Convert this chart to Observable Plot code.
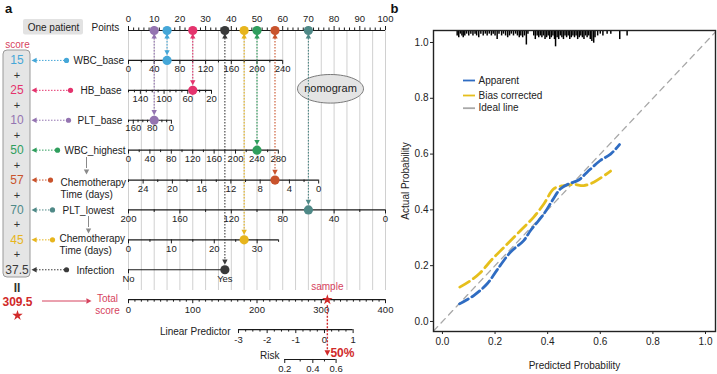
<!DOCTYPE html>
<html><head><meta charset="utf-8">
<script src="https://cdn.jsdelivr.net/npm/d3@7"></script>
<script src="https://cdn.jsdelivr.net/npm/@observablehq/plot@0.6"></script>
<style>
body{margin:0;background:#fff;}
#wrap{position:relative;width:717px;height:374px;overflow:hidden;font-family:"Liberation Sans",Arial,sans-serif;}
#pa{position:absolute;left:0;top:0;}
#pb{position:absolute;left:397px;top:0;}
</style></head><body><div id="wrap"><div id="pa"></div><div id="pb"></div></div>
<script>
// ================= DATA: panel a (nomogram) =================
const variables = ["WBC_base","HB_base","PLT_base","WBC_highest","Chemotherapy\nTime (days)","PLT_lowest","Chemotherapy\nTime (days)","Infection"];
const scores = [15,25,10,50,57,70,45,37.5];
const colors = ["#45a7d8","#e4336d","#9474b1","#2f9e5d","#c9532c","#4f8987","#e7b51d","#3a3a3a"];
const pointsLabels = [0,10,20,30,40,50,60,70,80,90,100];
const wbcBaseLabels = [0,40,80,120,160,200,240];
const hbBaseLabels = [140,100,60,20];
const pltBaseLabels = [160,80,0];
const wbcHighLabels = [0,40,80,120,160,200,240,280];
const chemo1Labels = [24,20,16,12,8,4,0];
const pltLowLabels = [200,160,120,80,40,0];
const chemo2Labels = [0,10,20,30];
const infectionLabels = ["No","Yes"];
const infectionPoints = [0,37.5];
const totalLabels = [0,100,200,300,400];
const lpLabels = [-3,-2,-1,0,1];
const riskLabels = [0.2,0.4,0.6];
const sampleRisk = 0.5;

// ================= DATA: panel b (calibration) =================
const probTicks = [0,0.2,0.4,0.6,0.8,1.0];
const apparentX = [0.065,0.119,0.17,0.208,0.259,0.309,0.335,0.386,0.418,0.449,0.48,0.518,0.55,0.6,0.639,0.673];
const apparentY = [0.063,0.093,0.135,0.185,0.249,0.29,0.326,0.386,0.434,0.476,0.493,0.507,0.535,0.577,0.60,0.634];
const biasX = [0.066,0.106,0.144,0.189,0.233,0.297,0.347,0.386,0.424,0.462,0.5,0.537,0.575,0.639];
const biasY = [0.123,0.146,0.175,0.223,0.265,0.326,0.374,0.422,0.476,0.487,0.491,0.487,0.499,0.539];
const idealX = [-0.034,1.038];
const rugX = [0.056,0.062,0.068,0.074,0.079,0.085,0.092,0.10,0.108,0.116,0.124,0.13,0.138,0.146,0.155,0.163,0.17,0.178,0.186,0.193,0.2,0.208,0.215,0.225,0.232,0.24,0.248,0.255,0.262,0.27,0.278,0.285,0.292,0.298,0.305,0.312,0.319,0.325,0.347,0.353,0.36,0.366,0.372,0.378,0.384,0.39,0.396,0.402,0.408,0.414,0.42,0.426,0.43,0.436,0.442,0.448,0.454,0.46,0.466,0.472,0.478,0.484,0.49,0.496,0.502,0.508,0.514,0.52,0.526,0.532,0.538,0.544,0.55,0.556,0.562,0.568,0.575,0.58,0.59,0.6,0.61,0.626,0.64,0.674,0.702];
const rugN = [3,4,2,3,4,3,2,3,2,3,2,3,4,2,3,2,3,2,3,2,3,5,2,3,2,3,4,3,2,3,2,3,4,3,4,3,8,2,3,5,3,4,3,4,3,5,4,3,5,4,3,5,9,4,5,3,4,5,3,4,3,5,4,3,4,3,5,4,3,4,5,3,4,3,5,6,7,4,3,2,3,2,2,5,3];
const legendNames = ["Apparent","Bias corrected","Ideal line"];
const legendColors = ["#2f6cc2","#e6bf1c","#a8a8a8"];

// ================= layout helpers =================
const FONT = '"Liberation Sans", Arial, sans-serif';
const PX0 = 128, PXPP = 2.57;              // pixel of 0 points, px per point
const X = px => (px - PX0) / PXPP;          // layout pixel -> points units
const ROW0 = 30, ROWH = 29.909;
const Yr = py => (py - ROW0) / ROWH;        // layout pixel -> row units
const lin = (v0, v1, p0, p1) => v => p0 + (v - v0) / (v1 - v0) * (p1 - p0);
const lpF = lin(-3, 1, 42.8, 87.4);
const totalF = lin(0, 400, 0, 100);
const riskF = p => lpF(Math.log(p / (1 - p)));
const RED = "#d12a2a", PINK = "#d6435e";

function tri(dir){ return {draw(ctx, size){ const r = Math.sqrt(size/Math.PI);
  const P = {up:[[0,-r],[r*0.9,r*0.7],[-r*0.9,r*0.7]], down:[[0,r],[r*0.9,-r*0.7],[-r*0.9,-r*0.7]],
             left:[[-r,0],[r*0.7,-r*0.9],[r*0.7,r*0.9]], right:[[r,0],[-r*0.7,-r*0.9],[-r*0.7,r*0.9]]}[dir];
  ctx.moveTo(P[0][0],P[0][1]); ctx.lineTo(P[1][0],P[1][1]); ctx.lineTo(P[2][0],P[2][1]); ctx.closePath(); }}; }
const triUp = tri("up"), triDown = tri("down"), triLeft = tri("left"), triRight = tri("right");
const ellipseSym = {draw(ctx){ const rx=33, ry=14.3, k=0.5523;
  ctx.moveTo(rx,0); ctx.bezierCurveTo(rx,ry*k,rx*k,ry,0,ry); ctx.bezierCurveTo(-rx*k,ry,-rx,ry*k,-rx,0);
  ctx.bezierCurveTo(-rx,-ry*k,-rx*k,-ry,0,-ry); ctx.bezierCurveTo(rx*k,-ry,rx,-ry*k,rx,0); ctx.closePath(); }};

// axis definitions
const axesDef = [
  {row:0, f:d=>d, lo:0, hi:100, labels:pointsLabels, step:2, dir:-1, off:-0.4},
  {row:1, f:lin(0,240,0,60), lo:0, hi:240, labels:wbcBaseLabels, step:20, dir:1, off:0.3},
  {row:2, f:lin(160,20,0,32.3), lo:160, hi:20, labels:hbBaseLabels, step:10, dir:1, off:0.28},
  {row:3, f:lin(180,0,0,16.7), lo:180, hi:0, labels:pltBaseLabels, step:20, dir:1, off:0.26},
  {row:4, f:lin(0,280,0,58.3), lo:0, hi:280, labels:wbcHighLabels, step:20, dir:1, off:0.29},
  {row:5, f:lin(26,0,0,74), lo:26, hi:0, labels:chemo1Labels, step:2, dir:1, off:0.29},
  {row:6, f:lin(200,0,0,100), lo:200, hi:0, labels:pltLowLabels, step:20, dir:1, off:0.29},
  {row:7, f:lin(0,35,0,58.4), lo:0, hi:35, labels:chemo2Labels, step:5, dir:1, off:0.29},
  {row:9, f:totalF, lo:0, hi:400, labels:totalLabels, step:10, dir:1, off:0.33},
  {row:10, f:lpF, lo:-3, hi:1, labels:lpLabels, step:0.25, dir:1, off:0.36},
  {row:11, f:riskF, lo:0.2, hi:0.6, labels:riskLabels, step:0.1, dir:1, off:0.3}
];
const axisLines = [], ticks = [], tickLabels = [];
const MAJ = 4/ROWH, MIN = 2.5/ROWH;
for (const a of axesDef) {
  axisLines.push({row:a.row, p0:a.f(a.lo), p1:a.f(a.hi)});
  const lo = Math.min(a.lo,a.hi), hi = Math.max(a.lo,a.hi);
  for (const v of d3.range(lo, hi + a.step/2, a.step)) {
    const major = a.labels.some(l => Math.abs(l - v) < 1e-6);
    ticks.push({row:a.row, p:a.f(v), dir:a.dir, len: major ? MAJ : MIN});
  }
  for (const l of a.labels) tickLabels.push({row:a.row, p:a.f(l), label:String(l), off:a.off});
}
axisLines.push({row:8, p0:infectionPoints[0], p1:infectionPoints[1]});
infectionLabels.forEach((l,i) => { ticks.push({row:8, p:infectionPoints[i], dir:1, len:MAJ}); tickLabels.push({row:8, p:infectionPoints[i], label:l, off:0.3}); });

const labelLayout = [
  {dot:66, tx:73, dy:0}, {dot:70, tx:80, dy:0}, {dot:68, tx:77, dy:0}, {dot:57, tx:64, dy:0},
  {dot:50, tx:60, dy:0.28}, {dot:52, tx:62, dy:0}, {dot:52, tx:59, dy:0.15}, {dot:66, tx:76, dy:0}
];
const vars = variables.map((name,i) => ({name, score:scores[i], color:colors[i], row:i+1, ...labelLayout[i]}));
const totalScore = d3.sum(scores);
const gridPts = d3.range(0, 101, 5);
const plusRows = [1,2,3,4,5,6,7];
const dep = [{x:86, y1:157, y2:168}, {x:88, y1:216, y2:227}];

const pa = Plot.plot({
  width:397, height:374, margin:0,
  style:{fontFamily:FONT, fontSize:"10px", color:"#222", background:"transparent", overflow:"visible"},
  x:{type:"linear", domain:[X(0), X(397)], range:[0,397], axis:null},
  y:{type:"linear", domain:[0,11], range:[ROW0, ROW0 + 11*ROWH], axis:null},
  color:{type:"identity"},
  marks:[
    Plot.ruleX(gridPts, {x:d=>d, y1:0, y2:Yr(290), stroke:"#d0d0d0", strokeWidth:1}),
    Plot.dot([0], {x:X(330), y:Yr(88.3), symbol:ellipseSym, r:1, fill:"#e4e4e4", stroke:"#7a7a7a", strokeWidth:1}),
    Plot.text(["nomogram"], {x:X(330), y:Yr(88.3), text:d=>d, fontSize:11, fill:"#222"}),
    Plot.ruleY(axisLines, {y:"row", x1:"p0", x2:"p1", stroke:"#1a1a1a", strokeWidth:1.2}),
    Plot.ruleX(ticks, {x:"p", y1:"row", y2:d=>d.row + d.dir*d.len, stroke:"#1a1a1a", strokeWidth:1}),
    Plot.text(tickLabels, {x:"p", y:d=>d.row + d.off, text:"label", fontSize:9.5, fill:"#222"}),
    // connectors to points axis
    Plot.ruleX(vars, {x:"score", y1:Yr(38), y2:d=>d.row - 0.3, stroke:"color", strokeWidth:1.1, strokeDasharray:"1.5,1.5"}),
    Plot.dot(vars, {x:"score", y:Yr(36), symbol:triUp, r:3, fill:"color"}),
    Plot.dot(vars, {x:"score", y:d=>d.row - 0.27, symbol:triDown, r:3, fill:"color"}),
    Plot.dot(vars, {x:"score", y:0, r:4.6, fill:"color"}),
    Plot.dot(vars, {x:"score", y:"row", r:4.6, fill:"color"}),
    // total score -> risk
    Plot.ruleX([totalScore], {x:d=>totalF(d), y1:9.2, y2:Yr(350), stroke:RED, strokeWidth:1.4, strokeDasharray:"2,1.5"}),
    Plot.dot([sampleRisk], {x:()=>totalF(totalScore), y:Yr(352), symbol:triDown, r:3.2, fill:RED}),
    Plot.dot([totalScore], {x:d=>totalF(d), y:9, symbol:"star", r:3.3, fill:RED}),
    Plot.text(["sample"], {x:totalF(totalScore), y:9, dy:-13, text:d=>d, fill:PINK, fontSize:10}),
    Plot.text([sampleRisk], {x:d=>riskF(d), y:Yr(353), dx:18, text:d=>d3.format(".0%")(d), fill:RED, fontSize:12, fontWeight:"bold"}),
    Plot.text(["Linear Predictor"], {x:X(230), y:Yr(331.5), text:d=>d, textAnchor:"end", fontSize:10}),
    Plot.text(["Risk"], {x:X(279), y:Yr(355), text:d=>d, textAnchor:"end", fontSize:10}),
    // left side
    Plot.text(["a"], {x:X(8), y:Yr(8), text:d=>d, fontSize:13, fontWeight:"bold", fill:"#111"}),
    Plot.rect([0], {x1:X(23), x2:X(83), y1:Yr(19), y2:Yr(34.5), fill:"#e2e2e2", rx:2}),
    Plot.text(["One patient"], {x:X(53), y:Yr(27), text:d=>d, fontSize:10}),
    Plot.text(["Points"], {x:X(91), y:Yr(27), text:d=>d, textAnchor:"start", fontSize:10}),
    Plot.text(["score"], {x:X(17), y:Yr(44), text:d=>d, fill:PINK, fontSize:10}),
    Plot.rect([0], {x1:X(3), x2:X(30), y1:Yr(50), y2:Yr(277), fill:"#e5e5e5", stroke:"#9a9a9a", rx:4}),
    Plot.text(vars, {x:X(16.5), y:"row", text:d=>String(d.score), fill:"color", fontSize:12}),
    Plot.text(plusRows, {x:X(16.5), y:d=>d + 0.5, text:()=>"+", fontSize:11, fill:"#333"}),
    Plot.text(["II"], {x:X(16.5), y:Yr(287.5), text:d=>d, fontSize:12, fontWeight:"bold", fill:"#333"}),
    Plot.text([totalScore], {x:X(17), y:Yr(301.5), text:d=>String(d), fill:RED, fontWeight:"bold", fontSize:12}),
    Plot.dot([0], {x:X(17), y:Yr(315), symbol:"star", r:3.3, fill:RED}),
    Plot.ruleY([0], {y:Yr(300.5), x1:X(42), x2:X(86), stroke:PINK, strokeWidth:1}),
    Plot.dot([0], {x:X(88), y:Yr(300.5), symbol:triRight, r:3, fill:PINK}),
    Plot.text(["Total\nscore"], {x:X(107), y:Yr(303.7), text:d=>d, fill:PINK, fontSize:10, lineHeight:1.2}),
    Plot.ruleY(vars, {y:"row", x1:X(36), x2:d=>X(d.dot), stroke:"color", strokeWidth:1, strokeDasharray:"1.5,1.5"}),
    Plot.dot(vars, {x:d=>X(d.dot), y:"row", r:2.6, fill:"color"}),
    Plot.dot(vars, {x:X(34), y:"row", symbol:triLeft, r:3, fill:"color"}),
    Plot.text(vars, {x:d=>X(d.tx), y:d=>d.row + d.dy, text:"name", textAnchor:"start", fontSize:10, lineHeight:1.2, fill:"#222"}),
    Plot.ruleX(dep, {x:d=>X(d.x), y1:d=>Yr(d.y1), y2:d=>Yr(d.y2), stroke:"#8a8a8a", strokeWidth:1}),
    Plot.dot(dep, {x:d=>X(d.x), y:d=>Yr(d.y2 + 3), symbol:triDown, r:3, fill:"#8a8a8a"})
  ]
});
document.getElementById("pa").appendChild(pa);

// ================= panel b =================
const bx = px => -0.034 + (px - 433) / 282 * 1.072;
const by = py => 1.043 - (py - 30) / 301 * 1.079;
const apparent = apparentX.map((x,i) => ({x, y:apparentY[i]}));
const bias = biasX.map((x,i) => ({x, y:biasY[i]}));
const ideal = idealX.map(x => ({x, y:x}));
const rug = rugX.map((x,i) => ({x, n:rugN[i]}));
const legendPy = [80, 95, 107.7];
const legend = legendNames.map((name,i) => ({name, color:legendColors[i], py:legendPy[i]}));
const fmt1 = d3.format(".1f");

const pb = Plot.plot({
  width:320, height:374, marginLeft:36, marginRight:2, marginTop:30, marginBottom:43,
  style:{fontFamily:FONT, fontSize:"10px", color:"#222", background:"transparent", overflow:"visible"},
  x:{domain:[-0.034,1.038], ticks:probTicks, tickFormat:fmt1, tickSize:3, tickPadding:3, label:null},
  y:{domain:[-0.036,1.043], ticks:probTicks, tickFormat:fmt1, tickSize:3, tickPadding:2, label:null},
  color:{type:"identity"},
  marks:[
    Plot.ruleX(rug, {x:"x", y1:1.043, y2:d=>1.043 - d.n*0.0065, stroke:"#000", strokeWidth:1.5}),
    Plot.line(ideal, {x:"x", y:"y", stroke:"#a8a8a8", strokeWidth:1.3, strokeDasharray:"6,5"}),
    Plot.line(bias, {x:"x", y:"y", stroke:"#e6bf1c", strokeWidth:2.8, strokeDasharray:"11,5", curve:"catmull-rom"}),
    Plot.line(apparent, {x:"x", y:"y", stroke:"#2f6cc2", strokeWidth:2.8, strokeDasharray:"10,4", curve:"catmull-rom"}),
    Plot.frame({stroke:"#222", strokeWidth:1.4}),
    Plot.ruleY(legend, {y:d=>by(d.py), x1:bx(463), x2:bx(475), stroke:"color", strokeWidth:1.8}),
    Plot.text(legend, {x:bx(478), y:d=>by(d.py), text:"name", textAnchor:"start", fontSize:10, fill:"#222"}),
    Plot.text(["b"], {x:bx(394), y:by(8.5), text:d=>d, fontSize:13, fontWeight:"bold", fill:"#111"}),
    Plot.text(["Predicted Probability"], {frameAnchor:"bottom", dy:34, text:d=>d, textAnchor:"middle", lineAnchor:"middle", fontSize:10}),
    Plot.text(["Actual Probability"], {frameAnchor:"left", dx:-28, rotate:-90, text:d=>d, textAnchor:"middle", lineAnchor:"middle", fontSize:10})
  ]
});
document.getElementById("pb").appendChild(pb);
</script></body></html>
